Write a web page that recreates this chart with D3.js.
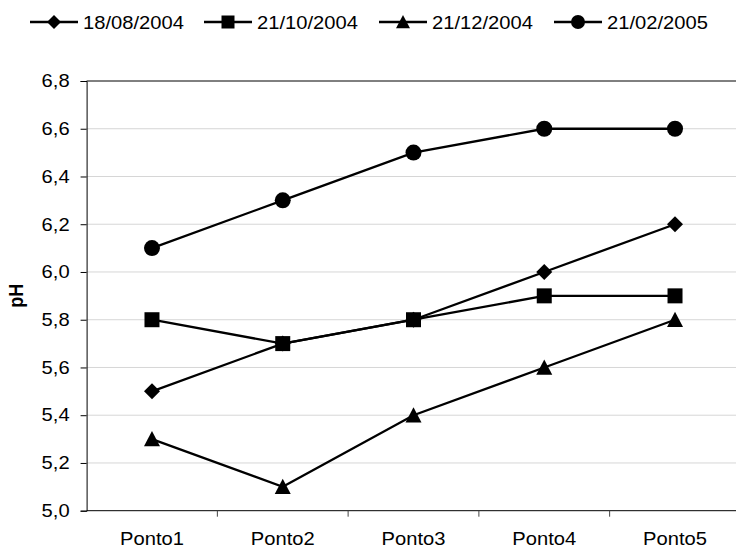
<!DOCTYPE html>
<html><head><meta charset="utf-8">
<script src="https://cdn.jsdelivr.net/npm/d3@7"></script>
<style>body{margin:0;background:#fff}svg{display:block;font-family:"Liberation Sans",Arial,sans-serif}</style>
</head><body><svg id="c" width="736" height="549"></svg>
<script>
const categories = ["Ponto1","Ponto2","Ponto3","Ponto4","Ponto5"];
const seriesNames = ["18/08/2004","21/10/2004","21/12/2004","21/02/2005"];
const s1 = [5.5, 5.7, 5.8, 6.0, 6.2];
const s2 = [5.8, 5.7, 5.8, 5.9, 5.9];
const s3 = [5.3, 5.1, 5.4, 5.6, 5.8];
const s4 = [6.1, 6.3, 6.5, 6.6, 6.6];
const yTicks = [5.0,5.2,5.4,5.6,5.8,6.0,6.2,6.4,6.6,6.8];
const series = [s1,s2,s3,s4];

// marker shapes; size = nominal width in px
const diamond = {draw(c, s){ const h = s/2; c.moveTo(0,-h); c.lineTo(h,0); c.lineTo(0,h); c.lineTo(-h,0); c.closePath(); }};
const square  = {draw(c, s){ const h = s/2; c.rect(-h,-h,s,s); }};
const triangle= {draw(c, s){ const h = s/2; c.moveTo(0,-h); c.lineTo(h,h*0.9); c.lineTo(-h,h*0.9); c.closePath(); }};
const circle  = {draw(c, s){ const h = s/2; c.moveTo(h,0); c.arc(0,0,h,0,2*Math.PI); }};
const markers = [diamond, square, triangle, circle];
const markerSizes = [16, 15, 16, 16];
const legendSizes = [14, 13, 14, 14];

const FS = 18, SX = 1.12;
const svg = d3.select("#c");
const plotL = 86.6, plotR = 740.4, plotT = 81, plotB = 510.7;
const x = d3.scaleBand().domain(categories).range([plotL, plotR]);
const y = d3.scaleLinear().domain([5.0, 6.8]).range([plotB, plotT]);
const fmt = v => d3.format(".1f")(v).replace(".", ",");

// grid
svg.append("g").selectAll("line").data(yTicks.filter(v => v > 5.0 && v < 6.8)).join("line")
  .attr("x1", plotL).attr("x2", plotR).attr("y1", d => y(d)).attr("y2", d => y(d))
  .attr("stroke", "#d6d6d6").attr("stroke-width", 1);
// top border
svg.append("line").attr("x1", plotL).attr("x2", plotR).attr("y1", plotT).attr("y2", plotT)
  .attr("stroke", "#000").attr("stroke-width", 1);

// y axis
const ya = svg.append("g").attr("transform", `translate(${plotL},0)`)
  .call(d3.axisLeft(y).tickValues(yTicks).tickFormat(fmt).tickSize(6).tickPadding(11));
ya.select(".domain").attr("stroke", "#000");
ya.selectAll(".tick line").attr("stroke", "#000");
ya.selectAll(".tick text").attr("font-size", FS).attr("fill", "#000")
  .attr("font-family", "Liberation Sans, Arial, sans-serif")
  .attr("x", -17 / SX).attr("transform", `scale(${SX},1)`);

// x axis with ticks at category boundaries
const xa = svg.append("g").attr("transform", `translate(0,${plotB})`)
  .call(d3.axisBottom(x).tickSize(0).tickPadding(22));
xa.select(".domain").remove();
xa.append("line").attr("x1", plotL).attr("x2", plotR).attr("stroke", "#000");
xa.selectAll(".tick text").attr("font-size", FS).attr("fill", "#000")
  .attr("font-family", "Liberation Sans, Arial, sans-serif")
  .attr("transform", `scale(${SX},1)`);
svg.append("g").selectAll("line").data(categories.slice(1)).join("line")
  .attr("x1", d => x(d)).attr("x2", d => x(d)).attr("y1", plotB).attr("y2", plotB + 6)
  .attr("stroke", "#444");

// axis title
svg.append("text").attr("transform", `translate(23,${(plotT+plotB)/2}) rotate(-90) scale(1,${SX})`)
  .attr("text-anchor", "middle").attr("font-size", FS).attr("font-weight", "bold").text("pH");

// series
const line = d3.line().x((d, i) => x(categories[i]) + x.bandwidth()/2).y(d => y(d));
series.forEach((vals, k) => {
  svg.append("path").datum(vals).attr("d", line).attr("fill", "none")
    .attr("stroke", "#000").attr("stroke-width", 2.3);
  svg.append("g").selectAll("path").data(vals).join("path")
    .attr("transform", (d, i) => `translate(${x(categories[i]) + x.bandwidth()/2},${y(d)})`)
    .attr("d", d3.symbol(markers[k], markerSizes[k]))
    .attr("fill", "#000");
});

// legend
const legX = [30, 204, 379, 554];
const lg = svg.append("g");
seriesNames.forEach((name, k) => {
  const g = lg.append("g").attr("transform", `translate(${legX[k]},22)`);
  g.append("line").attr("x1", 0).attr("x2", 48).attr("stroke", "#000").attr("stroke-width", 2.3);
  g.append("path").attr("transform", "translate(24,0)").attr("d", d3.symbol(markers[k], legendSizes[k])).attr("fill", "#000");
  g.append("text").attr("transform", `translate(53,6.5) scale(${SX},1)`).attr("font-size", FS).text(name);
});
</script></body></html>
